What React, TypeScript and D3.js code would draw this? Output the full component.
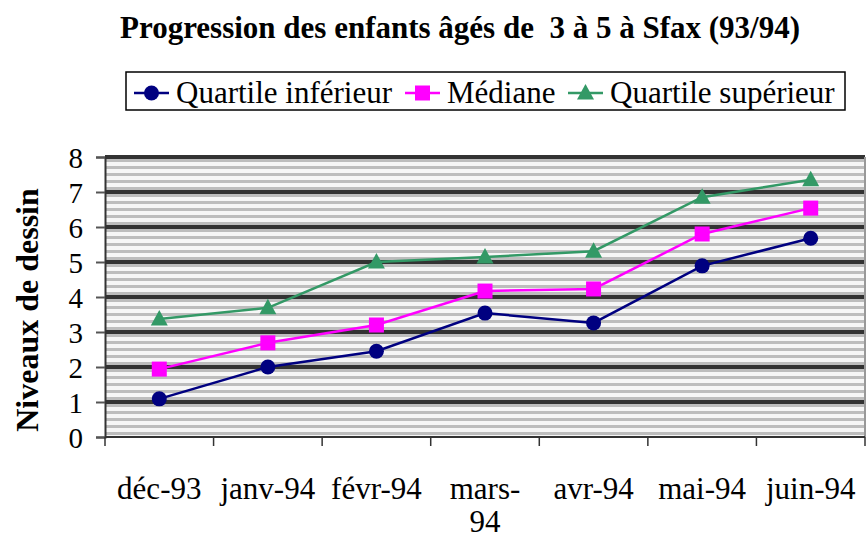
import * as d3 from "d3";
import { useEffect, useRef } from "react";

const months = ["déc-93", "janv-94", "févr-94", "mars-94", "avr-94", "mai-94", "juin-94"];
const quartileInf = [1.09, 2.0, 2.45, 3.54, 3.26, 4.89, 5.68];
const mediane = [1.94, 2.69, 3.2, 4.17, 4.23, 5.8, 6.54];
const quartileSup = [3.37, 3.69, 5.0, 5.14, 5.31, 6.85, 7.35];
const yTicks = [0, 1, 2, 3, 4, 5, 6, 7, 8];

const series = [
  { name: "Quartile inférieur", values: quartileInf, color: "#000080", marker: "circle" },
  { name: "Médiane", values: mediane, color: "#FF00FF", marker: "square" },
  { name: "Quartile supérieur", values: quartileSup, color: "#339966", marker: "triangle" },
];

const width = 867;
const height = 541;
const font = "'Liberation Serif', 'Times New Roman', serif";

export default function App() {
  const svgRef = useRef<SVGSVGElement>(null);

  useEffect(() => {
    if (!svgRef.current) return;
    document.body.style.margin = "0";
    const svg = d3.select(svgRef.current);
    svg.selectAll("*").remove();

    const margin = { top: 157, right: 2, bottom: 104, left: 105 };
    const innerWidth = width - margin.left - margin.right;
    const innerHeight = height - margin.top - margin.bottom;

    const x = d3.scaleBand().domain(months).range([0, innerWidth]);
    const y = d3.scaleLinear().domain([0, 8]).range([innerHeight, 0]);

    // striped background
    const defs = svg.append("defs");
    const pat = defs
      .append("pattern")
      .attr("id", "stripes")
      .attr("patternUnits", "userSpaceOnUse")
      .attr("width", 10)
      .attr("height", 7)
      .attr("y", 0);
    pat.append("rect").attr("width", 10).attr("height", 7).attr("fill", "#f6f6f6");
    pat.append("rect").attr("y", 2).attr("width", 10).attr("height", 3).attr("fill", "#bdbdbd");

    const g = svg.append("g").attr("transform", `translate(${margin.left},${margin.top})`);

    g.append("rect")
      .attr("width", innerWidth)
      .attr("height", innerHeight)
      .attr("fill", "url(#stripes)");

    // grid lines
    g.selectAll(".grid")
      .data(yTicks.slice(1))
      .enter()
      .append("line")
      .attr("x1", 0)
      .attr("x2", innerWidth)
      .attr("y1", (d) => y(d))
      .attr("y2", (d) => y(d))
      .attr("stroke", "#333")
      .attr("stroke-width", 4);

    // right border
    g.append("line")
      .attr("x1", innerWidth)
      .attr("x2", innerWidth)
      .attr("y1", 0)
      .attr("y2", innerHeight)
      .attr("stroke", "#999")
      .attr("stroke-width", 2);

    // y axis
    const yAxis = g
      .append("g")
      .call(d3.axisLeft(y).tickValues(yTicks).tickSize(9).tickPadding(13));
    yAxis.select(".domain").attr("stroke", "#333").attr("stroke-width", 2);
    yAxis.selectAll(".tick line").attr("stroke", "#555").attr("stroke-width", 2);
    yAxis
      .selectAll("text")
      .style("font-family", font)
      .style("font-size", "29px")
      .attr("fill", "#000")
      .attr("dy", "0.36em");

    // x axis, ticks on category boundaries
    const xAxisG = g.append("g").attr("transform", `translate(0,${innerHeight})`);
    xAxisG
      .append("line")
      .attr("x1", 0)
      .attr("x2", innerWidth)
      .attr("stroke", "#333")
      .attr("stroke-width", 2);
    const boundaries = d3.range(months.length + 1).map((i) => i * x.step());
    xAxisG
      .selectAll(".xt")
      .data(boundaries)
      .enter()
      .append("line")
      .attr("x1", (d) => d)
      .attr("x2", (d) => d)
      .attr("y1", 0)
      .attr("y2", 9)
      .attr("stroke", "#333")
      .attr("stroke-width", 1.5);

    const labels = xAxisG
      .selectAll(".xl")
      .data(months)
      .enter()
      .append("text")
      .attr("x", (d) => x(d)! + x.bandwidth() / 2)
      .attr("y", 62)
      .attr("text-anchor", "middle")
      .style("font-family", font)
      .style("font-size", "31px")
      .attr("fill", "#000");
    labels.each(function (d) {
      const t = d3.select(this);
      if (d === "mars-94") {
        t.append("tspan").attr("x", x(d)! + x.bandwidth() / 2).text("mars-");
        t.append("tspan").attr("x", x(d)! + x.bandwidth() / 2).attr("dy", 33).text("94");
      } else {
        t.text(d);
      }
    });

    // lines + markers
    const line = d3
      .line<number>()
      .x((_, i) => x(months[i])! + x.bandwidth() / 2)
      .y((d) => y(d));

    const drawMarker = (
      sel: d3.Selection<SVGGElement, unknown, null, undefined>,
      type: string,
      color: string,
      cx: number,
      cy: number,
    ) => {
      if (type === "circle") {
        sel.append("circle").attr("cx", cx).attr("cy", cy).attr("r", 7.5).attr("fill", color);
      } else if (type === "square") {
        sel.append("rect").attr("x", cx - 7.5).attr("y", cy - 7.5).attr("width", 15).attr("height", 15).attr("fill", color);
      } else {
        sel
          .append("path")
          .attr("d", `M${cx},${cy - 9}L${cx + 8.5},${cy + 6.5}L${cx - 8.5},${cy + 6.5}Z`)
          .attr("fill", color);
      }
    };

    series.forEach((s) => {
      g.append("path")
        .datum(s.values)
        .attr("d", line)
        .attr("fill", "none")
        .attr("stroke", s.color)
        .attr("stroke-width", 2.5);
      const mg = g.append("g");
      s.values.forEach((v, i) => {
        drawMarker(mg as any, s.marker, s.color, x(months[i])! + x.bandwidth() / 2, y(v));
      });
    });

    // Legend
    const legend = svg.append("g").attr("transform", "translate(126,72)");
    legend
      .append("rect")
      .attr("width", 719)
      .attr("height", 38)
      .attr("fill", "#fff")
      .attr("stroke", "#000")
      .attr("stroke-width", 1.5);
    const legendX = [8, 279, 442];
    series.forEach((s, i) => {
      const lg = legend.append("g").attr("transform", `translate(${legendX[i]},21)`);
      lg.append("line")
        .attr("x1", 0)
        .attr("x2", 35)
        .attr("stroke", s.color)
        .attr("stroke-width", 2.5);
      drawMarker(lg as any, s.marker, s.color, 17.5, 0);
      lg.append("text")
        .attr("x", 42)
        .attr("y", 10)
        .style("font-family", font)
        .style("font-size", "31px")
        .attr("fill", "#000")
        .text(s.name);
    });

    // Title
    svg
      .append("text")
      .attr("x", 460)
      .attr("y", 38)
      .attr("text-anchor", "middle")
      .style("font-family", font)
      .style("font-size", "31px")
      .style("font-weight", "bold")
      .style("white-space", "pre")
      .attr("fill", "#000")
      .text("Progression des enfants âgés de  3 à 5 à Sfax (93/94)");

    // Y axis label
    svg
      .append("text")
      .attr("transform", "rotate(-90)")
      .attr("x", -310)
      .attr("y", 38)
      .attr("text-anchor", "middle")
      .style("font-family", font)
      .style("font-size", "32px")
      .style("font-weight", "bold")
      .attr("fill", "#000")
      .text("Niveaux de dessin");
  }, []);

  return (
    <div style={{ position: "absolute", left: 0, top: 0 }}>
      <svg ref={svgRef} width={width} height={height} style={{ display: "block" }} />
    </div>
  );
}
